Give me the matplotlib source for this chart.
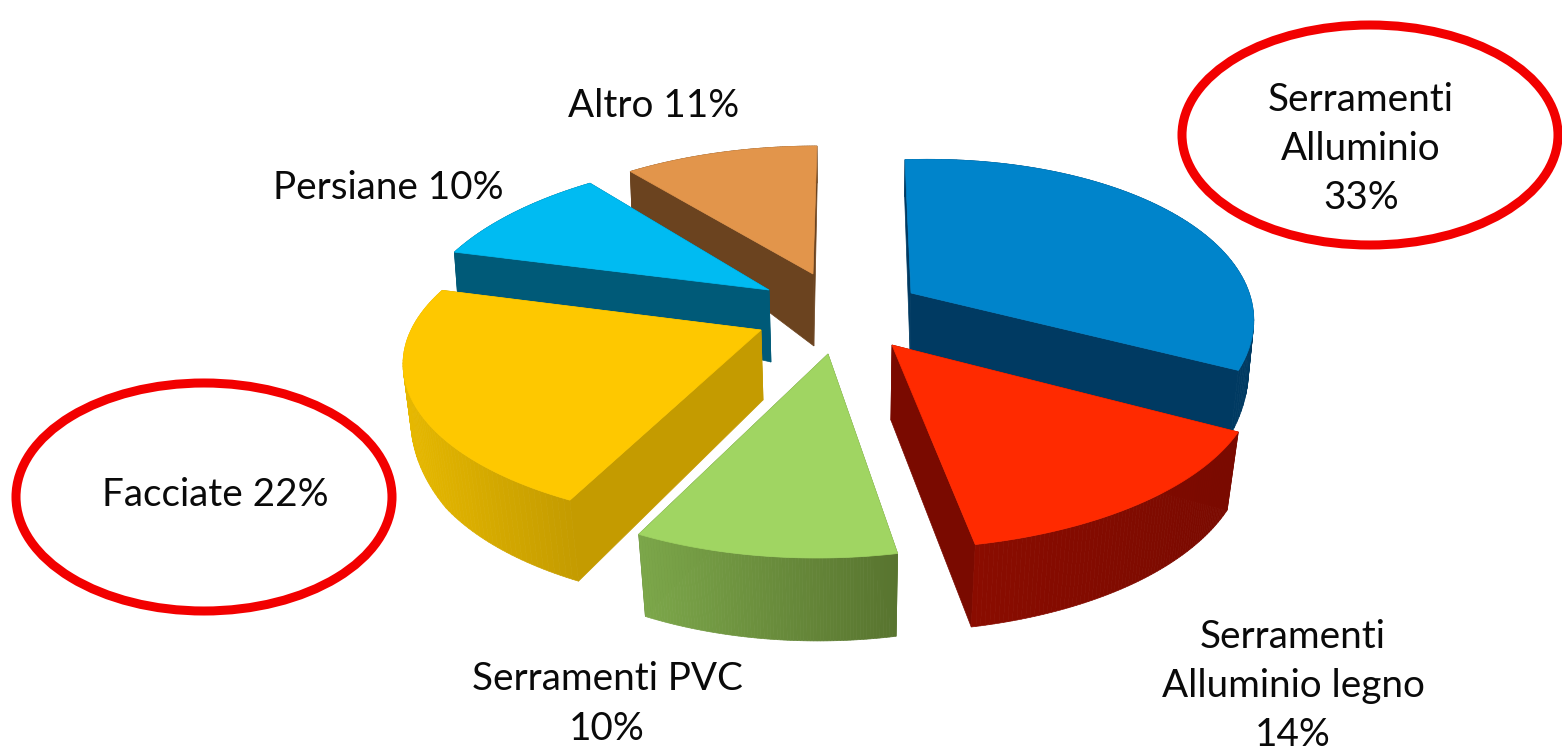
import numpy as np
import matplotlib
matplotlib.use('Agg')
import matplotlib.pyplot as plt
from matplotlib.patches import Ellipse

# Data
labels = ['Serramenti\nAlluminio\n33%', 'Serramenti\nAlluminio legno\n14%', 'Serramenti PVC\n10%',
          'Facciate 22%', 'Persiane 10%', 'Altro 11%']
values = [33, 14, 10, 22, 10, 11]

# Slice styles, same order as values
top_colors = ['#0084cb', '#ff2a00', '#a0d562', '#fec800', '#00bbf2', '#e2954b']
face_colors = ['#003a62', '#7a0a00', '#5c7a33', '#c49b00', '#005a78', '#6b431f']
rim_left = ['#003a62', '#8a0c00', '#7ca74a', '#e6b800', '#005a78', '#6b431f']
rim_right = ['#003a62', '#7a0a00', '#58742f', '#c49b00', '#005a78', '#6b431f']
apex_x = [911, 892, 828, 761, 769, 813]
apex_y = [293, 345, 354, 330, 290, 274]
apex_depth = [59, 75, 75, 70, 72, 72]
rx_scale = [0.97, 1.035, 1.0, 1.01, 1.0, 0.975]
ry_scale = [1.0, 1.02, 1.02, 0.97, 1.0, 0.96]
shear_x = [-6, 0, 11, 11, 15, 4]
tilt_y = [9, 0, 0, -3, 0, 0]
draw_order = [5, 4, 0, 3, 1, 2]
label_pos = [(1361, 149), (1293, 686), (607, 704), (215, 495), (388, 188), (654, 106)]

# Fake 3d settings
rx, ry, persp = 345, 160, -0.2
depth_y = [170, 255, 370, 430, 500, 560]
depth_px = [37, 40, 63, 78, 81, 83]
squeeze = 0.03
squeeze_x = 850


def project(i, t):
    u, v = np.sin(t), np.cos(t)
    denom = 1 - persp * v
    x = apex_x[i] + rx * rx_scale[i] * u / denom + shear_x[i] * v
    y = apex_y[i] - ry * ry_scale[i] * v / denom - tilt_y[i] * u
    return x, y


def lower(x, y, d):
    # bottom face is a bit narrower than the top one
    s = squeeze * (d / 80) ** 2
    return x + (squeeze_x - x) * s, y + d


def mix(c1, c2, f):
    a, b = np.array(matplotlib.colors.to_rgb(c1)), np.array(matplotlib.colors.to_rgb(c2))
    return a + (b - a) * f


def draw_slice(ax, i, t0, t1):
    t = np.linspace(t0, t1, 80)
    x, y = project(i, t)
    d = np.interp(y, depth_y, depth_px)
    bx, by = lower(x, y, d)
    ax_, ay_ = lower(apex_x[i], apex_y[i], apex_depth[i])

    # Radial side faces
    for k in (0, -1):
        ax.fill([apex_x[i], x[k], bx[k], ax_], [apex_y[i], y[k], by[k], ay_],
                fc=face_colors[i], ec=face_colors[i], lw=0.5)

    # Outer rim in small strips to get the gradient
    xmin, xmax = x.min(), x.max()
    for k in range(len(t) - 1):
        f = ((x[k] + x[k + 1]) / 2 - xmin) / (xmax - xmin)
        c = mix(rim_left[i], rim_right[i], f)
        ax.fill([x[k], x[k + 1], bx[k + 1], bx[k]], [y[k], y[k + 1], by[k + 1], by[k]],
                fc=c, ec=c, lw=0.5)

    # Top
    ax.fill(np.r_[apex_x[i], x], np.r_[apex_y[i], y], fc=top_colors[i], ec=top_colors[i], lw=0.5)


fig = plt.figure(figsize=(15.62, 7.52), dpi=100)
ax = fig.add_axes([0, 0, 1, 1])
ax.set_xlim(0, 1562)
ax.set_ylim(752, 0)
ax.axis('off')

angles = np.r_[0, np.cumsum(values)] / np.sum(values) * 2 * np.pi
for i in draw_order:
    draw_slice(ax, i, angles[i], angles[i + 1])

ax.add_patch(Ellipse((204, 497), 376, 228, fc='none', ec='#f20000', lw=6.5))
ax.add_patch(Ellipse((1370, 135), 376, 220, fc='none', ec='#f20000', lw=6.5))

for lab, (lx, ly) in zip(labels, label_pos):
    ax.text(lx, ly, lab, ha='center', va='center', family='Lato', fontsize=27.8,
            color='#0a0a0a', linespacing=1.45)

fig.savefig('out.png', dpi=100)
